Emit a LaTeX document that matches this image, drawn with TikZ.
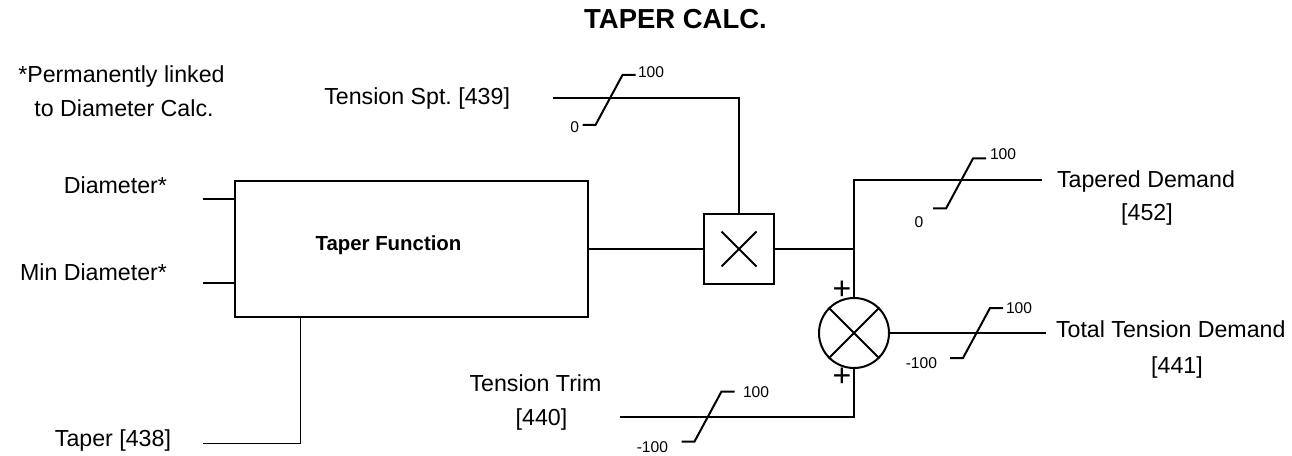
\documentclass[tikz,border=0pt]{standalone}
\usepackage{fontspec}
\setmainfont{Liberation Sans}
\frenchspacing
\begin{document}
\begin{tikzpicture}[x=0.75pt,y=-0.75pt,line width=1.5pt,
    lbl/.style={font=\fontsize{17.4}{21}\selectfont, inner sep=0pt},
    limlbl/.style={font=\fontsize{11.7}{14}\selectfont, inner sep=0pt},
    blockbox/.style={draw, rectangle, inner sep=0pt},
    limiter/.pic={\draw (-26.5,25) -- (-13.5,25) -- (13.5,-25) -- (26.5,-25);}]

    \useasboundingbox (0,0) rectangle (1292,456);

    % 1. Blocos
    \node[blockbox, minimum width=264.75pt, minimum height=102pt] (tf) at (411.5,249) {};
    \node[font=\bfseries\fontsize{15.3}{18}\selectfont, anchor=base] (tflbl) at (388.5,250) {Taper Function};
    \node[blockbox, minimum size=52.5pt] (mul) at (739,249) {};
    \node[draw, circle, minimum size=52.5pt, inner sep=0pt] (sum) at (854,333) {};
    \draw (mul.center) ++(-17.5,-17.5) -- ++(35,35) (mul.center) ++(-17.5,17.5) -- ++(35,-35);
    \draw (sum.north west) -- (sum.south east) (sum.north east) -- (sum.south west);
    \node[font=\fontsize{24}{25}\selectfont, inner sep=0pt] (plustop) at (842,290) {+};
    \node[font=\fontsize{24}{25}\selectfont, inner sep=0pt] (plusbot) at (842,377) {+};

    % 2. Textos
    \node[font=\bfseries\fontsize{20.6}{24}\selectfont, anchor=base] (title) at (675.5,29) {TAPER CALC.};
    \node[lbl, anchor=base] (note1) at (121.5,83) {*Permanently linked};
    \node[lbl, anchor=base] (note2) at (124,117) {to Diameter Calc.};
    \node[lbl, anchor=base east] (diam) at (168,194) {Diameter*};
    \node[lbl, anchor=base east] (mindiam) at (168,280) {Min Diameter*};
    \node[lbl, anchor=base east] (taper) at (172,446) {Taper [438]};
    \node[lbl, anchor=base east] (tspt) at (511,105) {Tension Spt. [439]};
    \node[lbl, anchor=base west] (tdem) at (1056,188) {Tapered Demand};
    \node[lbl, anchor=base] (tdemnum) at (1147,220) {[452]};
    \node[lbl, anchor=base west] (ttot) at (1055,337) {Total Tension Demand};
    \node[lbl, anchor=base] (ttotnum) at (1177,373) {[441]};
    \node[lbl, anchor=base] (trim) at (535.5,391) {Tension Trim};
    \node[lbl, anchor=base] (trimnum) at (541.5,425) {[440]};

    % 3. Ligacoes
    \coordinate (din) at (203,199);
    \coordinate (mdin) at (203,283);
    \coordinate (tapin) at (203,443);
    \coordinate (tapx) at (300,443);
    \coordinate (sptin) at (553,98);
    \coordinate (trimin) at (620,417);
    \coordinate (tdout) at (1042,180);
    \coordinate (totout) at (1046,333);
    \draw (din) -- (din -| tf.west);
    \draw (mdin) -- (mdin -| tf.west);
    \draw[line width=0.75pt] (tapin) -- (tapx) -- (tapx |- tf.south);
    \draw (sptin) -| (mul.north);
    \draw (tf.east) -- (mul.west);
    \draw (mul.east) -- (mul.east -| sum.north);
    \draw (sum.north) |- (tdout);
    \draw (sum.east) -- (totout);
    \draw (trimin) -| (sum.south);

    % 4. Limitadores
    \pic at (609,100) {limiter};
    \node[limlbl, anchor=west] (sptmax) at (637,72) {100};
    \node[limlbl, anchor=east] (sptmin) at (580,127) {0};
    \pic at (959.5,183.5) {limiter};
    \node[limlbl, anchor=west] (tdmax) at (989,154) {100};
    \node[limlbl] (tdmin) at (919,222) {0};
    \pic at (976.5,333) {limiter};
    \node[limlbl, anchor=west] (totmax) at (1005,308) {100};
    \node[limlbl, anchor=east] (totmin) at (938,363) {-100};
    \pic at (708,416.5) {limiter};
    \node[limlbl, anchor=west] (trimmax) at (742,392) {100};
    \node[limlbl, anchor=east] (trimmin) at (669,447) {-100};

\end{tikzpicture}
\end{document}
